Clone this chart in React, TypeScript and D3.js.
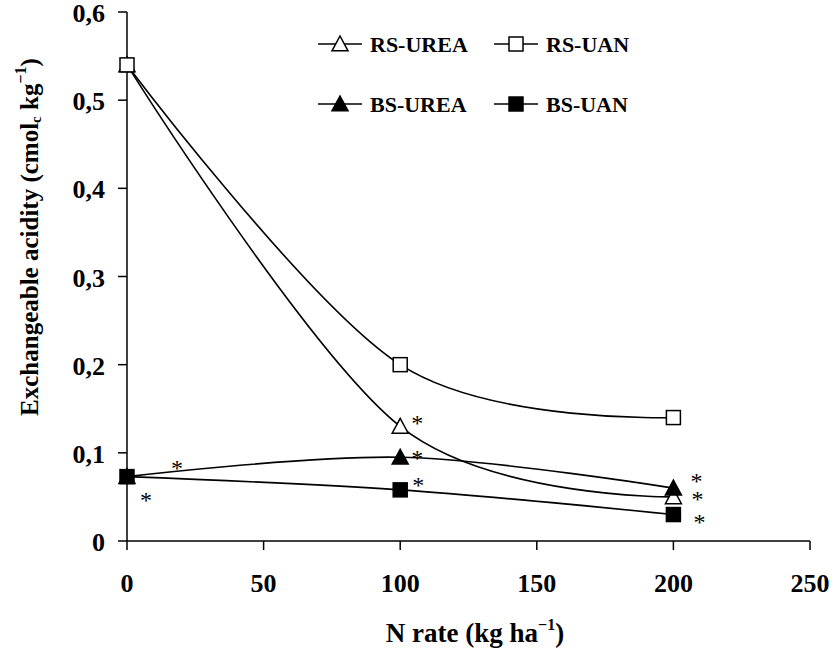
import React from "react";
import * as d3 from "d3";

const nRates = [0, 100, 200];
const rsUrea = [0.54, 0.13, 0.05];
const rsUan = [0.54, 0.2, 0.14];
const bsUrea = [0.073, 0.095, 0.06];
const bsUan = [0.073, 0.058, 0.03];
const xTicks = [0, 50, 100, 150, 200, 250];
const yTicks = [0, 0.1, 0.2, 0.3, 0.4, 0.5, 0.6];

type Star = { x: number; y: number; dx: number; dy: number };
const stars: Star[] = [
  { x: 0, y: 0.073, dx: 50, dy: -12 },
  { x: 0, y: 0.073, dx: 19, dy: 20 },
  { x: 100, y: 0.13, dx: 17, dy: -6 },
  { x: 100, y: 0.095, dx: 17, dy: -2 },
  { x: 100, y: 0.058, dx: 18, dy: -8 },
  { x: 200, y: 0.06, dx: 23, dy: -10 },
  { x: 200, y: 0.05, dx: 24, dy: -1 },
  { x: 200, y: 0.03, dx: 26, dy: 4 },
];

const FONT = "'Liberation Serif', 'Times New Roman', serif";

export default function App() {
  const W = 834, H = 655;
  const x = d3.scaleLinear().domain([0, 250]).range([127, 810]);
  const y = d3.scaleLinear().domain([0, 0.6]).range([541, 12]);
  const line = d3
    .line<number>()
    .x((_, i) => x(nRates[i]))
    .y((d) => y(d))
    .curve(d3.curveCardinal.tension(0));

  const series = [
    { name: "RS-UREA", data: rsUrea, shape: "tri", fill: "#fff" },
    { name: "RS-UAN", data: rsUan, shape: "sq", fill: "#fff" },
    { name: "BS-UREA", data: bsUrea, shape: "tri", fill: "#000" },
    { name: "BS-UAN", data: bsUan, shape: "sq", fill: "#000" },
  ];

  const marker = (shape: string, fill: string, cx: number, cy: number, key: string) => {
    if (shape === "sq") {
      return <rect key={key} x={cx - 7} y={cy - 7} width={14} height={14} fill={fill} stroke="#000" strokeWidth={1.5} />;
    }
    const s = 8;
    return (
      <path
        key={key}
        d={`M${cx},${cy - s} L${cx + s},${cy + s * 0.85} L${cx - s},${cy + s * 0.85} Z`}
        fill={fill}
        stroke="#000"
        strokeWidth={1.5}
      />
    );
  };

  const legendPos = [
    { lx: 318, ly: 44 },
    { lx: 494, ly: 44 },
    { lx: 318, ly: 104 },
    { lx: 494, ly: 104 },
  ];

  return (
    <svg width={W} height={H} style={{ position: "absolute", left: 0, top: 0, background: "#fff" }} fontFamily={FONT}>
      {/* axes */}
      <line x1={127} x2={127} y1={12} y2={541} stroke="#000" strokeWidth={1.5} />
      <line x1={127} x2={810} y1={541} y2={541} stroke="#000" strokeWidth={1.5} />
      {yTicks.map((t) => (
        <g key={"y" + t}>
          <line x1={118} x2={127} y1={y(t)} y2={y(t)} stroke="#000" strokeWidth={1.5} />
          <text x={105} y={y(t) + 10} textAnchor="end" fontSize={26} fontWeight="bold">
            {t === 0 ? "0" : t.toFixed(1).replace(".", ",")}
          </text>
        </g>
      ))}
      {xTicks.map((t) => (
        <g key={"x" + t}>
          <line x1={x(t)} x2={x(t)} y1={541} y2={550} stroke="#000" strokeWidth={1.5} />
          <text x={x(t)} y={592} textAnchor="middle" fontSize={26} fontWeight="bold">
            {t}
          </text>
        </g>
      ))}
      {/* axis titles */}
      <text x={475} y={642} textAnchor="middle" fontSize={27} fontWeight="bold">
        N rate (kg ha
        <tspan dy={-12} fontSize={16}>−1</tspan>
        <tspan dy={12}>)</tspan>
      </text>
      <text transform="translate(38,237) rotate(-90)" textAnchor="middle" fontSize={25} fontWeight="bold">
        Exchangeable acidity (cmol
        <tspan dy={3} fontSize={15}>c</tspan>
        <tspan dy={-3}> kg</tspan>
        <tspan dy={-12} fontSize={16}>−1</tspan>
        <tspan dy={12}>)</tspan>
      </text>
      {/* lines */}
      {series.map((s) => (
        <path key={"l" + s.name} d={line(s.data) || ""} fill="none" stroke="#000" strokeWidth={1.6} />
      ))}
      {/* markers */}
      {series.map((s) =>
        s.data.map((v, i) => marker(s.shape, s.fill, x(nRates[i]), y(v), s.name + i))
      )}
      {/* stars */}
      {stars.map((s, i) => (
        <text key={"s" + i} x={x(s.x) + s.dx} y={y(s.y) + s.dy + 11} textAnchor="middle" fontSize={24}>
          *
        </text>
      ))}
      {/* legend */}
      {series.map((s, i) => {
        const p = legendPos[i];
        return (
          <g key={"lg" + s.name}>
            <line x1={p.lx} x2={p.lx + 44} y1={p.ly} y2={p.ly} stroke="#000" strokeWidth={1.5} />
            {marker(s.shape, s.fill, p.lx + 22, p.ly, "lgm" + i)}
            <text x={p.lx + 52} y={p.ly + 8} fontSize={22} fontWeight="bold">
              {s.name}
            </text>
          </g>
        );
      })}
    </svg>
  );
}
